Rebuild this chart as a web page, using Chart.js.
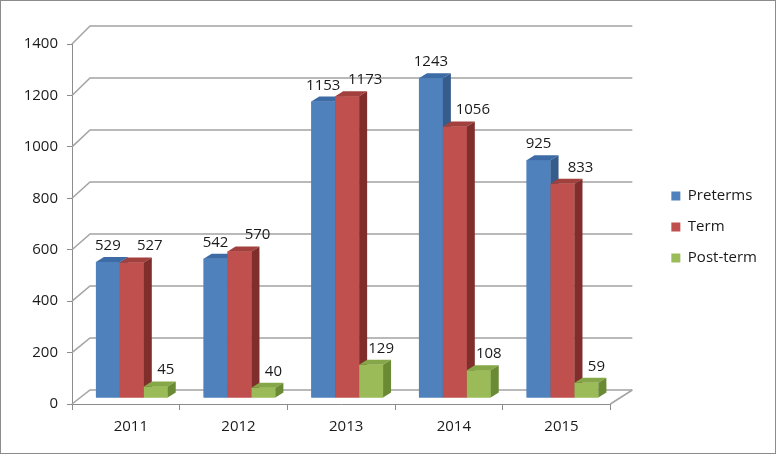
<!DOCTYPE html>
<html>
<head>
<meta charset="utf-8">
<script src="https://cdn.jsdelivr.net/npm/chart.js@4.4.1/dist/chart.umd.min.js"></script>
<style>
  html, body { margin: 0; padding: 0; background: #fff; }
</style>
</head>
<body>
<canvas id="chartPartos" width="776" height="454"></canvas>
<script>
const years = ['2011', '2012', '2013', '2014', '2015'];
const preterms = [529, 542, 1153, 1243, 925];
const term = [527, 570, 1173, 1056, 833];
const postTerm = [45, 40, 129, 108, 59];
const yMax = 1400;
const yStep = 200;

const BAR_SHIFT_X = 6, BAR_SHIFT_Y = -6;   // bars sit a bit behind the front axis
const DEPTH_X = 8, DEPTH_Y = -5;           // 3d depth of a bar
const labelShift = [0, 18, 10];            // excel pushes the labels right

Chart.defaults.font.family = "'Open Sans', sans-serif";
Chart.defaults.font.size = 15;
Chart.defaults.color = '#1a1a1a';

// fondo blanco + marco gris
const frame = {
    id: 'frame',
    beforeDraw(chart) {
        const ctx = chart.ctx;
        ctx.save();
        ctx.fillStyle = '#fff';
        ctx.fillRect(0, 0, chart.width, chart.height);
        ctx.restore();
    },
    afterDraw(chart) {
        const ctx = chart.ctx;
        ctx.save();
        ctx.strokeStyle = '#8c8c8c';
        ctx.lineWidth = 1;
        ctx.strokeRect(0.5, 0.5, chart.width - 1, chart.height - 1);
        ctx.restore();
    }
};

// back wall, side wall and floor of the 3d box, then bar faces
const box3d = {
    id: 'box3d',
    beforeDatasetsDraw(chart) {
        const ctx = chart.ctx;
        const area = chart.chartArea;
        const y = chart.scales.y;
        ctx.save();
        ctx.strokeStyle = '#a3a3a3';
        ctx.lineWidth = 1.5;
        y.ticks.forEach(t => {
            const yf = y.getPixelForValue(t.value);
            const yb = yf - 14 - 4 * (area.bottom - yf) / (area.bottom - area.top);
            ctx.beginPath();
            ctx.moveTo(area.left, yf);
            ctx.lineTo(area.left + 18, yb);
            ctx.lineTo(area.right + 22, yb);
            ctx.stroke();
        });
        ctx.beginPath();
        ctx.moveTo(area.right, area.bottom);
        ctx.lineTo(area.right + 22, area.bottom - 14);
        ctx.stroke();
        ctx.restore();

        ctx.save();
        ctx.translate(BAR_SHIFT_X, BAR_SHIFT_Y);
    },
    afterDatasetsDraw(chart) {
        const ctx = chart.ctx;
        const sets = chart.data.datasets;
        const metas = sets.map((ds, i) => chart.getDatasetMeta(i));
        // left to right inside every group so the next bar hides the side of the previous one
        years.forEach((yr, j) => {
            sets.forEach((ds, i) => {
                const bar = metas[i].data[j];
                const l = bar.x - bar.width / 2;
                const r = bar.x + bar.width / 2;
                ctx.fillStyle = ds.backgroundColor;
                ctx.fillRect(l, bar.y, bar.width, bar.base - bar.y);
                ctx.fillStyle = ds.topColor;
                ctx.beginPath();
                ctx.moveTo(l, bar.y);
                ctx.lineTo(l + DEPTH_X, bar.y + DEPTH_Y);
                ctx.lineTo(r + DEPTH_X, bar.y + DEPTH_Y);
                ctx.lineTo(r, bar.y);
                ctx.closePath();
                ctx.fill();
                ctx.fillStyle = ds.sideColor;
                ctx.beginPath();
                ctx.moveTo(r, bar.y);
                ctx.lineTo(r + DEPTH_X, bar.y + DEPTH_Y);
                ctx.lineTo(r + DEPTH_X, bar.base + DEPTH_Y);
                ctx.lineTo(r, bar.base);
                ctx.closePath();
                ctx.fill();
            });
        });
        ctx.fillStyle = '#1a1a1a';
        ctx.font = "15px 'Open Sans', sans-serif";
        ctx.textAlign = 'center';
        ctx.textBaseline = 'alphabetic';
        sets.forEach((ds, i) => {
            metas[i].data.forEach((bar, j) => {
                ctx.fillText(ds.data[j], bar.x + labelShift[i], bar.y - 12);
            });
        });
        ctx.restore();
    }
};

const ctx = document.getElementById('chartPartos').getContext('2d');
new Chart(ctx, {
    type: 'bar',
    data: {
        labels: years,
        datasets: [
            { label: 'Preterms', data: preterms, backgroundColor: '#4F81BD', topColor: '#3C6BA5', sideColor: '#365C8C' },
            { label: 'Term', data: term, backgroundColor: '#C0504D', topColor: '#A1403D', sideColor: '#7F2E2C' },
            { label: 'Post-term', data: postTerm, backgroundColor: '#9BBB59', topColor: '#86A747', sideColor: '#6A8A34' }
        ]
    },
    options: {
        responsive: false,
        animation: false,
        layout: { padding: { top: 9, bottom: 9, left: 0, right: 9 } },
        datasets: {
            bar: { categoryPercentage: 0.6667, barPercentage: 1, borderWidth: 0, clip: false }
        },
        plugins: {
            tooltip: { enabled: false },
            legend: {
                position: 'right',
                align: 'center',
                labels: {
                    boxWidth: 9,
                    boxHeight: 9,
                    padding: 16
                }
            }
        },
        scales: {
            x: {
                grid: { drawOnChartArea: false, drawTicks: true, tickLength: 6, color: '#8c8c8c', offset: true },
                border: { display: true, color: '#8c8c8c' },
                ticks: { padding: 8, labelOffset: 5 },
                afterFit: s => { s.height = 41; }
            },
            y: {
                min: 0,
                max: yMax,
                ticks: { stepSize: yStep, padding: 9, callback: v => v },
                grid: { drawOnChartArea: false, drawTicks: true, tickLength: 5, color: '#8c8c8c' },
                border: { display: true, color: '#8c8c8c' },
                afterFit: s => { s.width = 72; }
            },
            spacerRight: {
                type: 'linear',
                position: 'right',
                display: true,
                grid: { display: false },
                ticks: { display: false },
                border: { display: false },
                afterFit: s => { s.width = 45; }
            },
            spacerTop: {
                type: 'linear',
                position: 'top',
                display: true,
                grid: { display: false },
                ticks: { display: false },
                border: { display: false },
                afterFit: s => { s.height = 35; }
            }
        }
    },
    plugins: [frame, box3d]
});
</script>
</body>
</html>
